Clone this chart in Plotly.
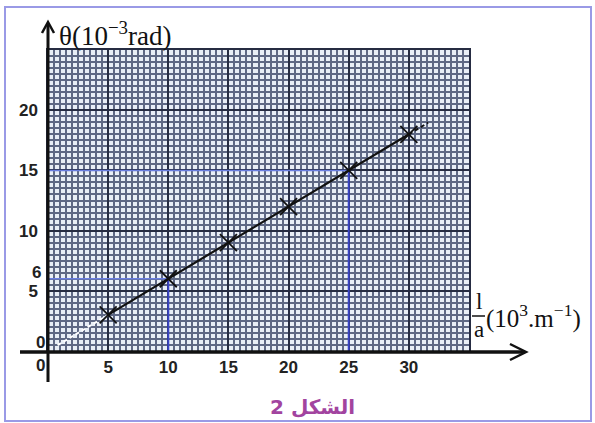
import plotly.graph_objects as go

# ---- data ----
inv_a = [5, 10, 15, 20, 25, 30]          # 1/a (10^3 m^-1)
theta = [3, 6, 9, 12, 15, 18]            # theta (10^-3 rad)
read_x = [10, 25]                        # read-off guides
read_y = [6, 15]
x_tick_vals = [5, 10, 15, 20, 25, 30]
x_tick_text = ["5", "10", "15", "20", "25", "30"]
y_tick_vals = [5, 10, 15, 20]
y_tick_text = ["5", "10", "15", "20"]

W, H = 595, 423
ML, MR, MT, MB = 48, 126, 50, 72
PW, PH = W - ML - MR, H - MT - MB


def px(xp):
    return (xp - ML) / PW


def py(yp):
    return (H - MB - yp) / PH


slope = sum(a * b for a, b in zip(inv_a, theta)) / sum(a * a for a in inv_a)

fig = go.Figure()

# guide lines (blue)
for gx, gy in zip(read_x, read_y):
    fig.add_trace(go.Scatter(x=[0, gx], y=[gy, gy], mode="lines",
                             line=dict(color="#6a7ee0", width=1.5), hoverinfo="skip"))
    fig.add_trace(go.Scatter(x=[gx, gx], y=[0, gy], mode="lines",
                             line=dict(color="#3a44c8", width=2), hoverinfo="skip"))

# dashed white start near origin
fig.add_trace(go.Scatter(x=[0.8, inv_a[0]], y=[0.8 * slope, slope * inv_a[0]], mode="lines",
                         line=dict(color="white", width=2, dash="4px,3px"), hoverinfo="skip"))
# dashed black extension
fig.add_trace(go.Scatter(x=[inv_a[-1], inv_a[-1] + 1.6], y=[slope * inv_a[-1], slope * (inv_a[-1] + 1.6)],
                         mode="lines", line=dict(color="#111", width=2, dash="4px,3px"),
                         hoverinfo="skip"))
# fitted line through points
fig.add_trace(go.Scatter(x=inv_a, y=[slope * v for v in inv_a], mode="lines",
                         line=dict(color="#111", width=2.2), hoverinfo="skip"))
# measured points
fig.add_trace(go.Scatter(x=inv_a, y=theta, mode="markers",
                         marker=dict(symbol="x-thin", size=17,
                                     line=dict(color="#111", width=1.8)),
                         hoverinfo="skip"))

tickfont = dict(family="Liberation Sans", size=17, color="#222", weight="bold")

fig.update_xaxes(range=[0, 35], showgrid=True, gridcolor="#262c42", gridwidth=2,
                 tickvals=x_tick_vals, ticktext=x_tick_text, tickfont=tickfont,
                 ticks="", ticklabelstandoff=0,
                 minor=dict(dtick=0.5, showgrid=True, gridcolor="#5e6884", gridwidth=1.5),
                 zeroline=False, showline=True, linecolor="#262c42", linewidth=1.5,
                 mirror=True, fixedrange=True)
fig.update_yaxes(range=[0, 25], showgrid=True, gridcolor="#262c42", gridwidth=2,
                 tickvals=y_tick_vals, ticktext=y_tick_text, tickfont=tickfont,
                 ticks="", ticklabelstandoff=5,
                 minor=dict(dtick=0.5, showgrid=True, gridcolor="#5e6884", gridwidth=1.5),
                 zeroline=False, showline=True, linecolor="#262c42", linewidth=1.5,
                 mirror=True, fixedrange=True)

shapes = []
# frame around image
shapes.append(dict(type="rect", xref="paper", yref="paper",
                   x0=px(5), x1=px(591), y0=py(421), y1=py(7),
                   line=dict(color="#9a9ae6", width=2), layer="below"))
# axes
shapes.append(dict(type="line", xref="paper", yref="paper",
                   x0=px(20), x1=px(525), y0=py(352), y1=py(352),
                   line=dict(color="#111", width=3.5)))
shapes.append(dict(type="line", xref="paper", yref="paper",
                   x0=px(48), x1=px(48), y0=py(382), y1=py(23),
                   line=dict(color="#111", width=3)))
# arrow heads
shapes.append(dict(type="path", xref="paper", yref="paper",
                   path=f"M {px(42)},{py(33)} L {px(48)},{py(22)} L {px(54)},{py(33)}",
                   line=dict(color="#111", width=2.5)))
shapes.append(dict(type="path", xref="paper", yref="paper",
                   path=f"M {px(510)},{py(344)} L {px(526)},{py(352)} L {px(510)},{py(360)}",
                   line=dict(color="#111", width=2.5)))
# fraction bar for 1/a
shapes.append(dict(type="line", xref="paper", yref="paper",
                   x0=px(472), x1=px(485), y0=py(316), y1=py(316),
                   line=dict(color="#111", width=1.5)))

annotations = [
    dict(x=px(57), y=py(34), xref="paper", yref="paper", xanchor="left", yanchor="middle",
         text="θ(10<sup>−3</sup>rad)", showarrow=False,
         font=dict(family="Liberation Serif", size=27, color="#111")),
    dict(x=px(478.5), y=py(301), xref="paper", yref="paper", xanchor="center", yanchor="middle",
         text="l", showarrow=False, font=dict(family="Liberation Serif", size=23, color="#111")),
    dict(x=px(478.5), y=py(329), xref="paper", yref="paper", xanchor="center", yanchor="middle",
         text="a", showarrow=False, font=dict(family="Liberation Serif", size=23, color="#111")),
    dict(x=px(484), y=py(316), xref="paper", yref="paper", xanchor="left", yanchor="middle",
         text="(10<sup>3</sup>.m<sup>−1</sup>)", showarrow=False,
         font=dict(family="Liberation Serif", size=25, color="#111")),
    dict(x=px(40), y=py(365), xref="paper", yref="paper", xanchor="center", yanchor="middle",
         text="0", showarrow=False, font=tickfont),
    dict(x=px(40), y=py(342), xref="paper", yref="paper", xanchor="center", yanchor="middle",
         text="0", showarrow=False, font=tickfont),
    dict(x=0, y=read_y[0], xref="paper", yref="y", xanchor="right", yanchor="middle",
         xshift=-5, yshift=6, text="6", showarrow=False, font=tickfont),
    dict(x=px(312), y=py(407), xref="paper", yref="paper", xanchor="center", yanchor="middle",
         text="<b>الشكل 2</b>", showarrow=False,
         font=dict(family="DejaVu Sans", size=20, color="#a2449f")),
]

fig.update_layout(width=W, height=H, margin=dict(l=ML, r=MR, t=MT, b=MB),
                  paper_bgcolor="white", plot_bgcolor="#e8eef6", showlegend=False,
                  shapes=shapes, annotations=annotations)

fig.write_html("out.html", config={"displayModeBar": False},
               post_script="document.body.style.margin='0px';document.body.style.overflow='hidden';")
